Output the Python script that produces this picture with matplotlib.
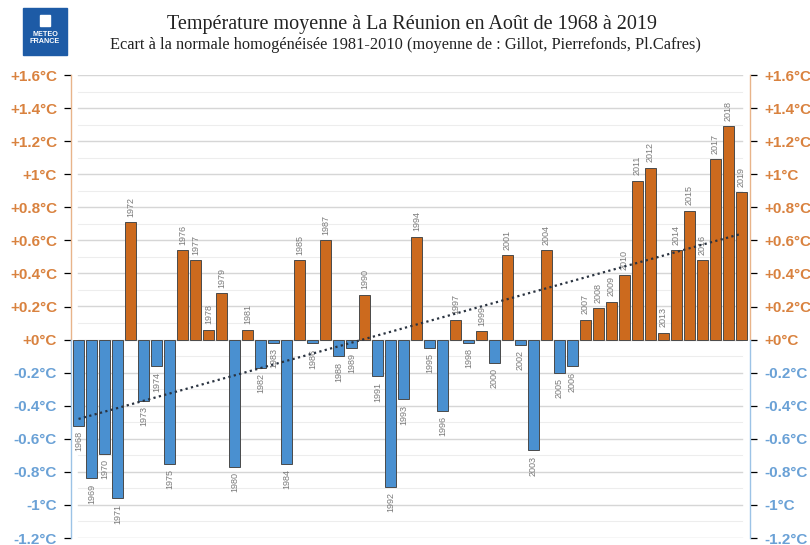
import numpy as np
import matplotlib
matplotlib.use("Agg")
import matplotlib.pyplot as plt
import matplotlib.transforms as mtransforms
from matplotlib.patches import Rectangle

years = np.arange(1968, 2020)
anomalies = [-0.52, -0.84, -0.69, -0.96, 0.71, -0.37, -0.16, -0.75, 0.54, 0.48,
             0.06, 0.28, -0.77, 0.06, -0.17, -0.02, -0.75, 0.48, -0.02, 0.60,
             -0.10, -0.05, 0.27, -0.22, -0.89, -0.36, 0.62, -0.05, -0.43, 0.12,
             -0.02, 0.05, -0.14, 0.51, -0.03, -0.67, 0.54, -0.20, -0.16, 0.12,
             0.19, 0.23, 0.39, 0.96, 1.04, 0.04, 0.54, 0.78, 0.48, 1.09,
             1.29, 0.89]
# linear trend read at the first and last year
trend_years = [1968, 2019]
trend_vals = [-0.48, 0.64]
yticks = np.round(np.arange(-1.2, 1.61, 0.2), 1)

title = "Température moyenne à La Réunion en Août de 1968 à 2019"
subtitle = "Ecart à la normale homogénéisée 1981-2010 (moyenne de : Gillot, Pierrefonds, Pl.Cafres)"

orange = "#cc6a1e"
blue = "#4a90d0"
orange_txt = "#d9823f"
blue_txt = "#6aa1d6"

vals = np.array(anomalies)

fig = plt.figure(figsize=(8.1, 5.45), dpi=100)
ax = fig.add_axes([71 / 810, 7 / 545, 679 / 810, 463 / 545])
ax.set_xlim(1967.42, 2019.65)
ax.set_ylim(-1.2, 1.6)

# grid
for y in np.arange(-1.2, 1.61, 0.1):
    major = abs(round(y * 10)) % 2 == 0
    ax.axhline(y, xmin=0.01, xmax=0.988, color="#d6d6d6" if major else "#ededed",
               lw=1.0 if major else 0.8, zorder=0)

colors = [orange if v >= 0 else blue for v in vals]
ax.bar(years, vals, width=0.85, color=colors, edgecolor="#4a4a4a", linewidth=0.7, zorder=2)

# year labels
for yr, v in zip(years, vals):
    up = v >= 0
    ax.annotate(str(yr), (yr, v), xytext=(0, 4 if up else -4), textcoords="offset points",
                rotation=90, ha="center", va="bottom" if up else "top", fontsize=6.5,
                color="#7a7a7a", family="Liberation Sans", zorder=3)

# trend line
ax.plot(trend_years, trend_vals, ls=(0, (1, 1.5)), color="#2a3340", lw=1.6, zorder=4)

# axes styling
for s in ax.spines.values():
    s.set_visible(False)
tr = mtransforms.blended_transform_factory(ax.transAxes, ax.transData)
for xa in (0, 1):
    ax.plot([xa, xa], [0, 1.6], transform=tr, color="#e8b48a", lw=1, clip_on=False)
    ax.plot([xa, xa], [-1.2, 0], transform=tr, color="#9cc3e6", lw=1, clip_on=False)

ax.set_xticks([])
ax.set_yticks(yticks)
labels = [("+" if t >= 0 else "") + ("%g" % t if t != 0 else "0") + "°C" for t in yticks]
ax.set_yticklabels(labels)
ax.tick_params(axis="y", left=True, right=True, labelleft=True, labelright=True,
               length=5, width=0.9, pad=6)
ax.tick_params(axis="y", which="major", pad=6)
for t, tick in zip(yticks, ax.yaxis.get_major_ticks()):
    c = orange_txt if t >= 0 else blue_txt
    lc = "#e8b48a" if t >= 0 else "#9cc3e6"
    tick.tick1line.set_color(lc)
    tick.tick2line.set_color(lc)
    for lab in (tick.label1, tick.label2):
        lab.set_color(c)
        lab.set_fontweight("bold")
        lab.set_fontsize(11)
        lab.set_family("Liberation Sans")
    tick.set_pad(5)

# titles
fig.text(0.509, 0.955, title, ha="center", va="center", fontsize=14.5,
         family="Liberation Serif", color="#222222")
fig.text(0.500, 0.918, subtitle, ha="center", va="center", fontsize=11.8,
         family="Liberation Serif", color="#222222")

# logo
fig.patches.append(Rectangle((23 / 810, 1 - 55 / 545), 44 / 810, 47 / 545,
                             transform=fig.transFigure, color="#1d5ba6", zorder=5))
fig.patches.append(Rectangle((40 / 810, 1 - 26 / 545), 10 / 810, 11 / 545,
                             transform=fig.transFigure, color="white", zorder=6))
fig.text(45 / 810, 1 - 38 / 545, "METEO\nFRANCE", ha="center", va="center",
         fontsize=5.2, color="white", fontweight="bold", linespacing=1.1,
         family="Liberation Sans", zorder=7)

fig.savefig("out.png", dpi=100)
